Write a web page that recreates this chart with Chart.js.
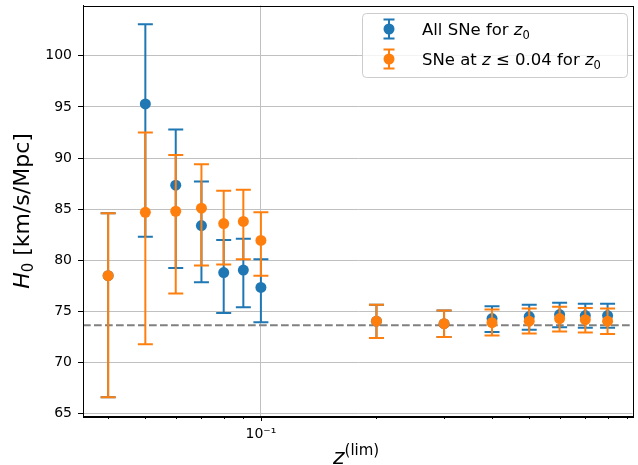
<!DOCTYPE html>
<html>
<head>
<meta charset="utf-8">
<script src="https://cdn.jsdelivr.net/npm/chart.js@4/dist/chart.umd.min.js"></script>
<style>
  html, body { margin: 0; padding: 0; background: #fff; }
  canvas { display: block; }
</style>
</head>
<body>
<canvas id="h0-chart" width="638" height="465"></canvas>
<script>
// upper redshift limit of each fit
const zLim = [0.04, 0.05, 0.06, 0.07, 0.08, 0.09, 0.1, 0.2, 0.3, 0.4, 0.5, 0.6, 0.7, 0.8];

// all SNe used for z0
const allH0   = [78.5, 95.3, 87.35, 83.4, 78.8, 79.05, 77.35, 74.05, 73.8, 74.3, 74.5, 74.7, 74.6, 74.6];
const allLow  = [66.6, 82.3, 79.25, 77.85, 74.85, 75.4, 73.95, 72.4, 72.5, 73.0, 73.2, 73.45, 73.4, 73.4];
const allHigh = [84.6, 103.1, 92.8, 87.7, 82.0, 82.1, 80.1, 75.65, 75.1, 75.5, 75.65, 75.85, 75.75, 75.75];

// only SNe at z <= 0.04 used for z0
const cutH0   = [78.5, 84.7, 84.8, 85.1, 83.6, 83.8, 81.95, 74.05, 73.8, 73.9, 74.05, 74.3, 74.2, 74.05];
const cutLow  = [66.6, 71.8, 76.75, 79.5, 79.6, 80.1, 78.5, 72.4, 72.5, 72.65, 72.85, 73.05, 72.95, 72.8];
const cutHigh = [84.6, 92.5, 90.3, 89.4, 86.8, 86.9, 84.7, 75.65, 75.1, 75.2, 75.3, 75.45, 75.35, 75.3];

const h0Ref = 73.65;

const yTicks = [65, 70, 75, 80, 85, 90, 95, 100];
const xTicks = [0.04, 0.05, 0.06, 0.07, 0.08, 0.09, 0.1, 0.2, 0.3, 0.4, 0.5, 0.6, 0.7, 0.8, 0.9];

const BLUE = '#1f77b4';
const ORANGE = '#ff7f0e';
const FONT = '"DejaVu Sans", sans-serif';

Chart.defaults.font.family = FONT;
Chart.defaults.color = '#000';

// error bars, drawn just before each dataset's markers
const errorBars = {
    id: 'errorBars',
    beforeDatasetDraw(chart, args) {
        const ds = chart.data.datasets[args.index];
        const { ctx, scales: { x, y } } = chart;
        ctx.save();
        ctx.strokeStyle = ds.backgroundColor;
        ctx.lineWidth = 2;
        ds.errLow.forEach((lo, i) => {
            const px = x.getPixelForValue(zLim[i]);
            const pLo = y.getPixelForValue(lo);
            const pHi = y.getPixelForValue(ds.errHigh[i]);
            ctx.beginPath();
            ctx.moveTo(px, pLo); ctx.lineTo(px, pHi);
            ctx.moveTo(px - 7.5, pLo); ctx.lineTo(px + 7.5, pLo);
            ctx.moveTo(px - 7.5, pHi); ctx.lineTo(px + 7.5, pHi);
            ctx.stroke();
        });
        ctx.restore();
    }
};

// reference line under the data
const refLine = {
    id: 'refLine',
    beforeDatasetsDraw(chart) {
        const { ctx, chartArea: a, scales: { y } } = chart;
        const py = y.getPixelForValue(h0Ref);
        ctx.save();
        ctx.strokeStyle = '#808080';
        ctx.lineWidth = 2;
        ctx.setLineDash([7.7, 3.3]);
        ctx.beginPath();
        ctx.moveTo(a.left, py); ctx.lineTo(a.right, py);
        ctx.stroke();
        ctx.restore();
    }
};

function drawRuns(ctx, runs, x, y) {
    runs.forEach(r => {
        ctx.font = r.font;
        ctx.fillText(r.t, x, y + (r.dy || 0));
        x += ctx.measureText(r.t).width;
    });
    return x;
}
function runsWidth(ctx, runs) {
    let w = 0;
    runs.forEach(r => { ctx.font = r.font; w += ctx.measureText(r.t).width; });
    return w;
}

// frame, minor/major ticks, axis titles and legend
const decorations = {
    id: 'decorations',
    afterDatasetsDraw(chart) {
        const { ctx, chartArea: a, scales: { x } } = chart;
        ctx.save();
        ctx.strokeStyle = '#000';
        ctx.lineWidth = 1;
        xTicks.forEach(v => {
            const px = Math.round(x.getPixelForValue(v)) + 0.5;
            ctx.beginPath();
            ctx.moveTo(px, a.bottom); ctx.lineTo(px, a.bottom + (v === 0.1 ? 5 : 3));
            ctx.stroke();
        });
        ctx.strokeRect(Math.round(a.left) + 0.5, Math.round(a.top) + 0.5,
            Math.round(a.right - a.left), Math.round(a.bottom - a.top));
        ctx.restore();
    },
    afterDraw(chart) {
        const { ctx } = chart;
        ctx.save();
        ctx.fillStyle = '#000';
        ctx.textBaseline = 'alphabetic';

        // y title
        const yRuns = [
            { t: 'H', font: 'italic 22px ' + FONT },
            { t: '0', font: '15px ' + FONT, dy: 4 },
            { t: ' [km/s/Mpc]', font: '22px ' + FONT }
        ];
        ctx.translate(29, 211);
        ctx.rotate(-Math.PI / 2);
        drawRuns(ctx, yRuns, -runsWidth(ctx, yRuns) / 2, 0);
        ctx.setTransform(1, 0, 0, 1, 0, 0);

        // x title
        drawRuns(ctx, [
            { t: 'z', font: 'italic 22px ' + FONT },
            { t: '(lim)', font: '15px ' + FONT, dy: -9 }
        ], 333, 464);

        // legend
        const bx = 362, by = 13, bw = 265, bh = 64;
        ctx.fillStyle = 'rgba(255,255,255,0.8)';
        ctx.strokeStyle = '#cccccc';
        ctx.lineWidth = 1;
        ctx.beginPath();
        ctx.roundRect(bx + 0.5, by + 0.5, bw, bh, 4);
        ctx.fill();
        ctx.stroke();

        const entries = [
            { color: BLUE, cy: 29, runs: [
                { t: 'All SNe for ', font: '16.5px ' + FONT },
                { t: 'z', font: 'italic 16.5px ' + FONT },
                { t: '0', font: '11.5px ' + FONT, dy: 3.5 }
            ] },
            { color: ORANGE, cy: 59, runs: [
                { t: 'SNe at ', font: '16.5px ' + FONT },
                { t: 'z', font: 'italic 16.5px ' + FONT },
                { t: ' \u2264 0.04 for ', font: '16.5px ' + FONT },
                { t: 'z', font: 'italic 16.5px ' + FONT },
                { t: '0', font: '11.5px ' + FONT, dy: 3.5 }
            ] }
        ];
        entries.forEach(e => {
            const ix = 389;
            ctx.strokeStyle = e.color;
            ctx.fillStyle = e.color;
            ctx.lineWidth = 2;
            ctx.beginPath();
            ctx.moveTo(ix, e.cy - 9.5); ctx.lineTo(ix, e.cy + 9.5);
            ctx.moveTo(ix - 5.5, e.cy - 9.5); ctx.lineTo(ix + 5.5, e.cy - 9.5);
            ctx.moveTo(ix - 5.5, e.cy + 9.5); ctx.lineTo(ix + 5.5, e.cy + 9.5);
            ctx.stroke();
            ctx.beginPath();
            ctx.arc(ix, e.cy, 5.5, 0, Math.PI * 2);
            ctx.fill();
            ctx.fillStyle = '#000';
            drawRuns(ctx, e.runs, 422, e.cy + 6);
        });
        ctx.restore();
    }
};

new Chart(document.getElementById('h0-chart'), {
    type: 'scatter',
    data: {
        datasets: [
            {
                label: 'All SNe for z0',
                data: zLim.map((z, i) => ({ x: z, y: allH0[i] })),
                errLow: allLow, errHigh: allHigh,
                backgroundColor: BLUE, borderColor: BLUE,
                pointRadius: 5.5, pointHoverRadius: 5.5, pointBorderWidth: 0,
                order: 2
            },
            {
                label: 'SNe at z <= 0.04 for z0',
                data: zLim.map((z, i) => ({ x: z, y: cutH0[i] })),
                errLow: cutLow, errHigh: cutHigh,
                backgroundColor: ORANGE, borderColor: ORANGE,
                pointRadius: 5.5, pointHoverRadius: 5.5, pointBorderWidth: 0,
                order: 1
            }
        ]
    },
    options: {
        responsive: false,
        animation: false,
        layout: { padding: { top: 2, right: 2, left: 0, bottom: 0 } },
        plugins: { legend: { display: false }, tooltip: { enabled: false } },
        scales: {
            x: {
                type: 'logarithmic',
                min: 0.0344, max: 0.929,
                afterBuildTicks: s => { s.ticks = xTicks.map(v => ({ value: v })); },
                afterFit: s => { s.height = 49; s.paddingLeft = 0; s.paddingRight = 0; },
                grid: {
                    drawTicks: false,
                    color: c => (c.tick && c.tick.value === 0.1) ? '#c0c0c0' : 'rgba(0,0,0,0)',
                    lineWidth: 1
                },
                border: { color: '#000', width: 1 },
                ticks: {
                    autoSkip: false, maxRotation: 0, padding: 10,
                    font: { size: 14 }, color: '#000',
                    callback: v => v === 0.1 ? '10\u207B\u00B9' : ''
                }
            },
            y: {
                min: 64.775, max: 104.925,
                afterBuildTicks: s => { s.ticks = yTicks.map(v => ({ value: v })); },
                afterFit: s => { s.width = 83; s.paddingTop = 0; s.paddingBottom = 0; },
                grid: { color: '#c0c0c0', lineWidth: 1, tickColor: '#000', tickLength: 5 },
                border: { color: '#000', width: 1 },
                ticks: { padding: 6, font: { size: 14 }, color: '#000', callback: v => v }
            }
        }
    },
    plugins: [errorBars, refLine, decorations]
});
</script>
</body>
</html>
